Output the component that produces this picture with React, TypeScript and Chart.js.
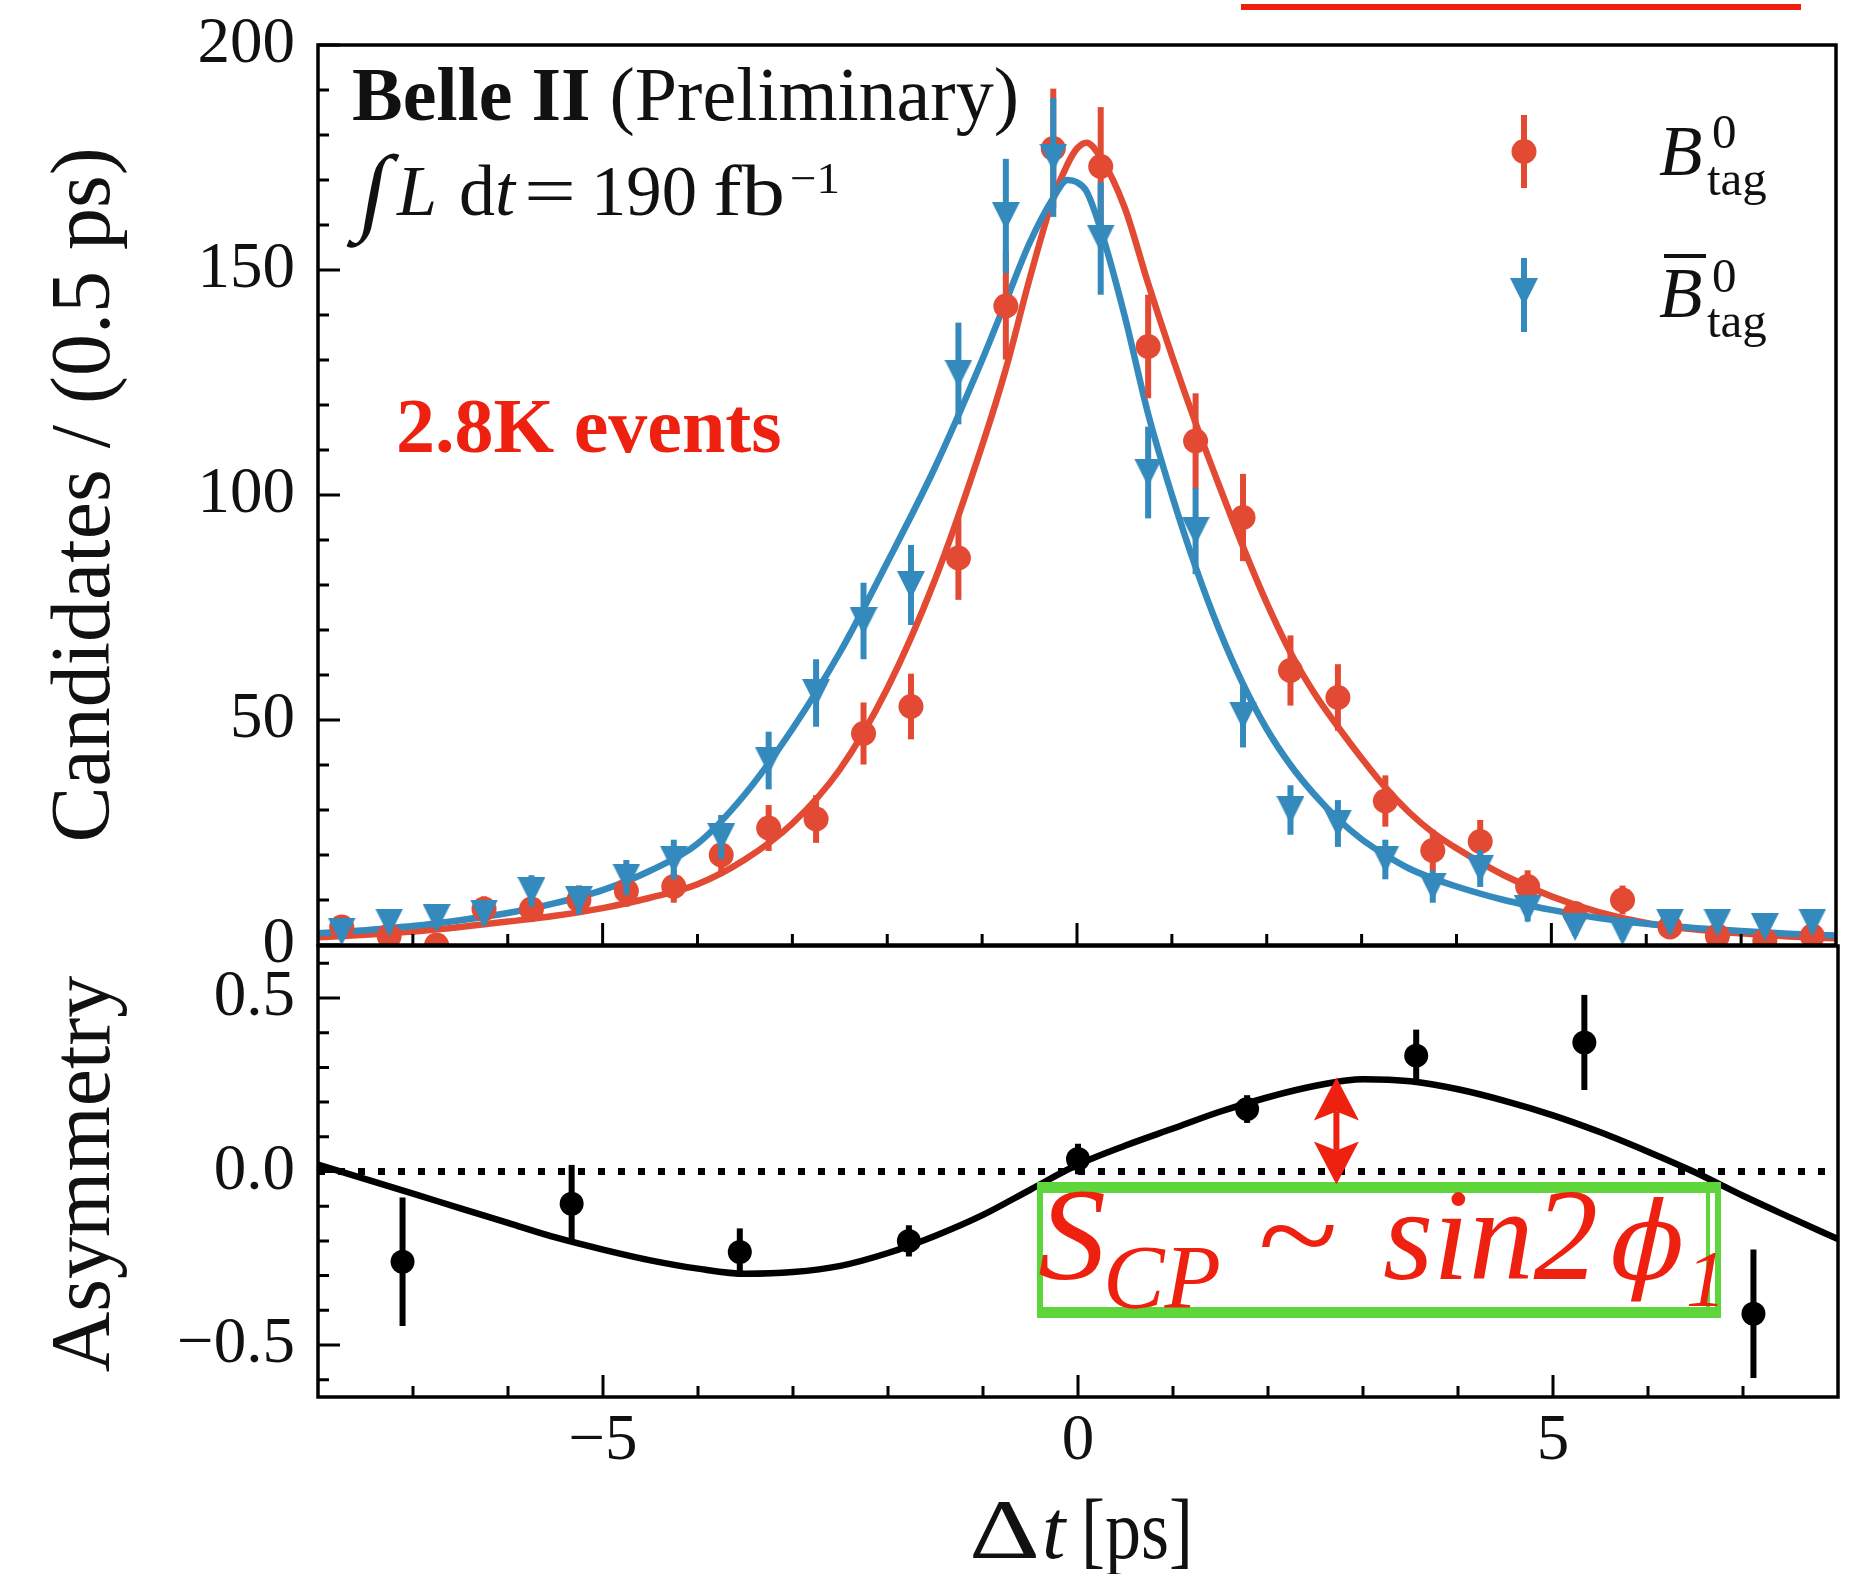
import React, { useEffect, useRef } from 'react';
import { Chart, registerables } from 'chart.js';

Chart.register(...registerables);

const W = 1850;
const H = 1574;
const SERIF = '"Liberation Serif", "Times New Roman", "DejaVu Serif", serif';
const RED = '#E24A33';
const BLUE = '#348ABD';
const NOTE_RED = '#EE2111';
const GREEN = '#5ED53A';
const INK = '#111111';

// ---------- upper panel: Δt bins (0.5 ps) ----------
const binCentres = [-7.75, -7.25, -6.75, -6.25, -5.75, -5.25, -4.75, -4.25, -3.75, -3.25, -2.75, -2.25, -1.75, -1.25, -0.75, -0.25,
  0.25, 0.75, 1.25, 1.75, 2.25, 2.75, 3.25, 3.75, 4.25, 4.75, 5.25, 5.75, 6.25, 6.75, 7.25, 7.75];
const countsB0 = [4, 2, 0, 8, 8, 10, 12, 13, 20, 26, 28, 47, 53, 86, 142, 177,
  173, 133, 112, 95, 61, 55, 32, 21, 23, 13, 7, 10, 4, 2, 1, 2];
const errB0 = [2, 1.4, 0, 2.8, 2.8, 3.2, 3.5, 3.6, 4.5, 5.1, 5.3, 6.9, 7.3, 9.3, 11.9, 13.3,
  13.2, 11.5, 10.6, 9.7, 7.8, 7.4, 5.7, 4.6, 4.8, 3.6, 2.6, 3.2, 2, 1.4, 1, 1.4];
const countsB0bar = [3, 5, 6, 7, 12, 10, 15, 19, 24, 41, 56, 72, 80, 127, 162, 175,
  157, 105, 92, 51, 30, 27, 19, 13, 17, 8, 4, 3, 5, 5, 4, 5];
const errB0bar = [1.7, 2.2, 2.4, 2.6, 3.5, 3.2, 3.9, 4.4, 4.9, 6.4, 7.5, 8.5, 8.9, 11.3, 12.7, 13.2,
  12.5, 10.2, 9.6, 7.1, 5.5, 5.2, 4.4, 3.6, 4.1, 2.8, 2, 1.7, 2.2, 2.2, 2, 2.2];

// ---------- upper panel: fit curves ----------
const fitDt = [-8, -7.5, -7, -6.5, -6, -5.5, -5, -4.5, -4, -3.5, -3, -2.5, -2, -1.5, -1, -0.75, -0.5, -0.25, -0.1, 0, 0.1, 0.25,
  0.5, 0.75, 1, 1.25, 1.5, 1.75, 2, 2.25, 2.5, 2.75, 3, 3.25, 3.5, 3.75, 4, 4.5, 5, 5.5, 6, 6.5, 7, 7.5, 8];
const fitB0 = [1.7, 2.3, 3.0, 4.0, 5.2, 6.5, 8.2, 10.5, 13.5, 19, 27, 39, 57, 81, 111, 128, 148, 166, 173.5, 177, 178.3, 175,
  164, 147, 131, 116, 102, 88.5, 76, 65, 56, 48.5, 41.5, 35, 29.5, 25, 21.5, 15.5, 10.8, 7.3, 4.9, 3.5, 2.6, 1.9, 1.5];
const fitB0bar = [2.6, 3.3, 4.2, 5.5, 7.1, 9.3, 12.2, 16.5, 22.5, 33.5, 48, 65, 85, 106, 130, 143, 156, 166, 170, 169.5, 167.5, 159,
  140, 118, 100, 84, 70, 58, 48, 40, 33.5, 28, 23.5, 20, 17, 14.8, 13, 10, 7.8, 6, 4.7, 3.8, 3.1, 2.5, 2.1];

// ---------- lower panel: asymmetry ----------
const asymDt = [-7.11, -5.33, -3.56, -1.78, 0, 1.78, 3.56, 5.33, 7.11];
const asymVal = [-0.26, -0.093, -0.232, -0.2, 0.036, 0.18, 0.334, 0.372, -0.41];
const asymErr = [0.185, 0.112, 0.068, 0.045, 0.044, 0.04, 0.075, 0.137, 0.185];
const asymFitDt = [-8, -7.5, -7, -6.5, -6, -5.5, -5, -4.5, -4, -3.5, -3, -2.5, -2, -1.5, -1, -0.5, 0, 0.5, 1, 1.5, 2, 2.5,
  3, 3.5, 4, 4.5, 5, 5.5, 6, 6.5, 7, 7.5, 8];
const asymFitVal = [0.02, -0.022, -0.064, -0.106, -0.148, -0.19, -0.225, -0.256, -0.28, -0.295, -0.29, -0.272, -0.235, -0.185,
  -0.125, -0.052, 0.02, 0.075, 0.124, 0.173, 0.214, 0.247, 0.266, 0.26, 0.237, 0.203, 0.162, 0.113, 0.057, -0.003, -0.07,
  -0.133, -0.195];
const zeroLineDt = [-8, 8];
const zeroLineVal = [0, 0];

// ---------- tick marks ----------
const dtMajor = [-5, 0, 5];
const dtMinor = [-7, -6, -4, -3, -2, -1, 1, 2, 3, 4, 6, 7];
const countMajor = [0, 50, 100, 150, 200];
const countMinor = [10, 20, 30, 40, 60, 70, 80, 90, 110, 120, 130, 140, 160, 170, 180, 190];
const asymMajor = [-0.5, 0, 0.5];
const asymMinor = [-0.6, -0.4, -0.3, -0.2, -0.1, 0.1, 0.2, 0.3, 0.4, 0.6];

// annotation arrow (data coordinates)
const arrowDt = 2.72;
const arrowFrom = -0.0375;
const arrowTo = 0.271;

const pts = (xs: number[], ys: number[]) => xs.map((x, i) => ({ x, y: ys[i] }));

const minusFmt = (v: number, digits: number) => {
  if (Math.abs(v) < 1e-9) v = 0;
  const s = Math.abs(v).toFixed(digits);
  return v < 0 ? '\u2212' + s : s;
};

function makeTriangle(size: number, color: string) {
  const c = document.createElement('canvas');
  c.width = size;
  c.height = size;
  const g = c.getContext('2d')!;
  g.fillStyle = color;
  g.beginPath();
  g.moveTo(0, 0);
  g.lineTo(size, 0);
  g.lineTo(size / 2, size);
  g.closePath();
  g.fill();
  return c;
}

const errorBarPlugin = {
  id: 'errorBars',
  beforeDatasetDraw(chart: any, args: any) {
    const ds = chart.data.datasets[args.index];
    if (!ds.errorBars) return;
    const { ctx, chartArea: a } = chart;
    const xs = chart.scales.x;
    const ys = chart.scales.y;
    ctx.save();
    ctx.beginPath();
    ctx.rect(a.left, a.top, a.right - a.left, a.bottom - a.top);
    ctx.clip();
    ctx.strokeStyle = ds.errorBarColor;
    ctx.lineWidth = 6;
    ctx.lineCap = 'butt';
    ds.data.forEach((p: any, i: number) => {
      const e = ds.errorBars[i];
      if (!e) return;
      const px = xs.getPixelForValue(p.x);
      ctx.beginPath();
      ctx.moveTo(px, ys.getPixelForValue(p.y - e));
      ctx.lineTo(px, ys.getPixelForValue(p.y + e));
      ctx.stroke();
    });
    ctx.restore();
  },
};

function drawFrame(chart: any, yMajor: number[], yMinor: number[]) {
  const { ctx, chartArea: a } = chart;
  const xs = chart.scales.x;
  const ys = chart.scales.y;
  ctx.save();
  ctx.strokeStyle = '#000';
  ctx.lineCap = 'butt';
  ctx.lineWidth = 3;
  ctx.beginPath();
  yMajor.forEach((v) => { const p = ys.getPixelForValue(v); ctx.moveTo(a.left, p); ctx.lineTo(a.left + 22, p); });
  yMinor.forEach((v) => { const p = ys.getPixelForValue(v); ctx.moveTo(a.left, p); ctx.lineTo(a.left + 11, p); });
  dtMajor.forEach((v) => { const p = xs.getPixelForValue(v); ctx.moveTo(p, a.bottom); ctx.lineTo(p, a.bottom - 22); });
  dtMinor.forEach((v) => { const p = xs.getPixelForValue(v); ctx.moveTo(p, a.bottom); ctx.lineTo(p, a.bottom - 11); });
  ctx.stroke();
  ctx.lineWidth = 3.5;
  ctx.strokeRect(a.left, a.top, a.right - a.left, a.bottom - a.top);
  ctx.restore();
}

function text(ctx: CanvasRenderingContext2D, s: string, x: number, y: number, font: string, color = INK) {
  ctx.font = font;
  ctx.fillStyle = color;
  ctx.fillText(s, x, y);
  return ctx.measureText(s).width;
}

// draws text squeezed / stretched horizontally to a given advance width
function fitText(ctx: CanvasRenderingContext2D, s: string, x: number, y: number, font: string, width: number, color = INK) {
  ctx.font = font;
  const w = ctx.measureText(s).width;
  ctx.save();
  ctx.translate(x, y);
  ctx.scale(width / w, 1);
  ctx.fillStyle = color;
  ctx.fillText(s, 0, 0);
  ctx.restore();
}

function makeUpperDecor(tri: HTMLCanvasElement) {
  return {
    id: 'upperDecor',
    afterDraw(chart: any) {
      drawFrame(chart, countMajor, countMinor);
      const ctx: CanvasRenderingContext2D = chart.ctx;
      ctx.save();
      ctx.textAlign = 'left';
      ctx.textBaseline = 'alphabetic';

      // red rule at the very top
      ctx.fillStyle = NOTE_RED;
      ctx.fillRect(1241, 4, 560, 6);

      // experiment label
      const w = text(ctx, 'Belle II', 352, 120, `bold 76px ${SERIF}`);
      text(ctx, ' (Preliminary)', 352 + w, 120, `76px ${SERIF}`);

      // luminosity
      ctx.save();
      ctx.translate(356, 222);
      ctx.transform(1, 0, -0.18, 1, 0, 0);
      text(ctx, '\u222B', 0, 0, `96px ${SERIF}`);
      ctx.restore();
      text(ctx, 'L', 397, 215, `italic 72px ${SERIF}`);
      text(ctx, 'd', 459, 215, `72px ${SERIF}`);
      text(ctx, 't', 495, 215, `italic 72px ${SERIF}`);
      fitText(ctx, '=', 524, 215, `72px ${SERIF}`, 52);
      fitText(ctx, '190', 591, 215, `72px ${SERIF}`, 106);
      fitText(ctx, 'fb', 713, 215, `72px ${SERIF}`, 72);
      fitText(ctx, '\u22121', 790, 193, `44px ${SERIF}`, 50);

      // events
      text(ctx, '2.8K events', 396, 452, `bold 78px ${SERIF}`, NOTE_RED);

      // legend
      ctx.strokeStyle = RED;
      ctx.lineWidth = 6;
      ctx.beginPath(); ctx.moveTo(1524, 115); ctx.lineTo(1524, 188); ctx.stroke();
      ctx.fillStyle = RED;
      ctx.beginPath(); ctx.arc(1524, 151.5, 12.5, 0, Math.PI * 2); ctx.fill();
      ctx.strokeStyle = BLUE;
      ctx.beginPath(); ctx.moveTo(1524, 258); ctx.lineTo(1524, 332); ctx.stroke();
      ctx.drawImage(tri, 1524 - tri.width / 2, 292 - tri.height / 2);

      text(ctx, 'B', 1659, 175, `italic 71px ${SERIF}`);
      text(ctx, '0', 1712, 148, `49px ${SERIF}`);
      text(ctx, 'tag', 1707, 195, `49px ${SERIF}`);
      text(ctx, 'B', 1659, 317, `italic 71px ${SERIF}`);
      ctx.fillStyle = INK;
      ctx.fillRect(1664, 254, 42, 4);
      text(ctx, '0', 1712, 292, `49px ${SERIF}`);
      text(ctx, 'tag', 1707, 337, `49px ${SERIF}`);

      // y title
      ctx.save();
      ctx.translate(109, 495);
      ctx.rotate(-Math.PI / 2);
      ctx.textAlign = 'center';
      text(ctx, 'Candidates / (0.5 ps)', 0, 0, `84px ${SERIF}`);
      ctx.restore();

      ctx.restore();
    },
  };
}

const lowerDecor = {
  id: 'lowerDecor',
  afterDraw(chart: any) {
    drawFrame(chart, asymMajor, asymMinor);
    const ctx: CanvasRenderingContext2D = chart.ctx;
    const xs = chart.scales.x;
    const ys = chart.scales.y;
    ctx.save();
    ctx.textAlign = 'left';
    ctx.textBaseline = 'alphabetic';

    // green box
    ctx.fillStyle = GREEN;
    ctx.fillRect(1037, 1182, 684, 11);
    ctx.fillRect(1037, 1307, 684, 11);
    ctx.fillRect(1037, 1182, 6, 136);
    ctx.fillRect(1706, 1182, 4, 136);
    ctx.fillRect(1715, 1182, 6, 136);

    // double arrow
    const ax = xs.getPixelForValue(arrowDt);
    const yTop = ys.getPixelForValue(arrowTo);
    const yBot = ys.getPixelForValue(arrowFrom);
    const hl = 43, hw = 22.5, notch = 9;
    ctx.strokeStyle = NOTE_RED;
    ctx.fillStyle = NOTE_RED;
    ctx.lineWidth = 6;
    ctx.beginPath(); ctx.moveTo(ax, yTop + hl - notch); ctx.lineTo(ax, yBot - hl + notch); ctx.stroke();
    ctx.beginPath();
    ctx.moveTo(ax, yTop); ctx.lineTo(ax + hw, yTop + hl); ctx.lineTo(ax, yTop + hl - notch); ctx.lineTo(ax - hw, yTop + hl);
    ctx.closePath(); ctx.fill();
    ctx.beginPath();
    ctx.moveTo(ax, yBot); ctx.lineTo(ax + hw, yBot - hl); ctx.lineTo(ax, yBot - hl + notch); ctx.lineTo(ax - hw, yBot - hl);
    ctx.closePath(); ctx.fill();

    // S_CP ~ sin2phi_1
    fitText(ctx, 'S', 1038, 1279, `italic 132px ${SERIF}`, 68, NOTE_RED);
    fitText(ctx, 'CP', 1103, 1308, `italic 90px ${SERIF}`, 118, NOTE_RED);
    fitText(ctx, '~', 1258, 1279, `132px ${SERIF}`, 80, NOTE_RED);
    fitText(ctx, 'sin2', 1383, 1279, `italic 132px ${SERIF}`, 215, NOTE_RED);
    ctx.save();
    ctx.translate(1604, 1279);
    ctx.transform(1, 0, -0.22, 1, 0, 0);
    text(ctx, '\u03D5', 0, 0, `108px "DejaVu Serif", ${SERIF}`, NOTE_RED);
    ctx.restore();
    text(ctx, '1', 1686, 1306, `italic 80px ${SERIF}`, NOTE_RED);

    // y title
    ctx.save();
    ctx.translate(109, 1174);
    ctx.rotate(-Math.PI / 2);
    ctx.textAlign = 'center';
    text(ctx, 'Asymmetry', 0, 0, `84px ${SERIF}`);
    ctx.restore();

    // x title
    fitText(ctx, '\u0394', 969, 1558, `84px ${SERIF}`, 71);
    text(ctx, 't', 1042, 1558, `italic 84px ${SERIF}`);
    fitText(ctx, '[ps]', 1081, 1558, `84px ${SERIF}`, 112);

    ctx.restore();
  },
};

const tickFont = { family: SERIF, size: 65 };

export default function App() {
  const upRef = useRef<HTMLCanvasElement>(null);
  const loRef = useRef<HTMLCanvasElement>(null);

  useEffect(() => {
    const tri = makeTriangle(28, BLUE);

    const upper = new Chart(upRef.current!, {
      type: 'scatter',
      data: {
        datasets: [
          {
            label: 'B0bar_tag',
            data: pts(binCentres, countsB0bar),
            errorBars: errB0bar,
            errorBarColor: BLUE,
            pointStyle: tri,
            pointRadius: 14,
            pointHoverRadius: 14,
            backgroundColor: BLUE,
            borderWidth: 0,
            order: 0,
            clip: 0,
          } as any,
          {
            label: 'B0_tag',
            data: pts(binCentres, countsB0),
            errorBars: errB0,
            errorBarColor: RED,
            pointStyle: 'circle',
            pointRadius: 12.5,
            pointHoverRadius: 12.5,
            backgroundColor: RED,
            borderColor: RED,
            borderWidth: 0,
            order: 1,
            clip: 0,
          } as any,
          {
            label: 'fit B0bar',
            data: pts(fitDt, fitB0bar),
            showLine: true,
            borderColor: BLUE,
            borderWidth: 6.5,
            pointRadius: 0,
            cubicInterpolationMode: 'monotone',
            fill: false,
            order: 2,
            clip: 0,
          } as any,
          {
            label: 'fit B0',
            data: pts(fitDt, fitB0),
            showLine: true,
            borderColor: RED,
            borderWidth: 6.5,
            pointRadius: 0,
            cubicInterpolationMode: 'monotone',
            fill: false,
            order: 3,
            clip: 0,
          } as any,
        ],
      },
      options: {
        responsive: false,
        maintainAspectRatio: false,
        animation: false,
        events: [],
        layout: { padding: { left: 0, right: W - 1843, top: 45, bottom: H - 945 } },
        plugins: { legend: { display: false }, tooltip: { enabled: false } },
        scales: {
          x: { type: 'linear', min: -8, max: 8, display: false },
          y: {
            type: 'linear',
            min: 0,
            max: 200,
            ticks: { stepSize: 50, font: tickFont, color: INK, padding: 23 },
            grid: { display: false, drawTicks: false },
            border: { display: false },
            afterFit: (s: any) => { s.width = 318; s.paddingTop = 0; s.paddingBottom = 0; },
          },
        },
      } as any,
      plugins: [errorBarPlugin, makeUpperDecor(tri)],
    });

    const lower = new Chart(loRef.current!, {
      type: 'scatter',
      data: {
        datasets: [
          {
            label: 'asymmetry',
            data: pts(asymDt, asymVal),
            errorBars: asymErr,
            errorBarColor: '#000',
            pointStyle: 'circle',
            pointRadius: 12,
            pointHoverRadius: 12,
            backgroundColor: '#000',
            borderWidth: 0,
            order: 0,
            clip: 0,
          } as any,
          {
            label: 'fit',
            data: pts(asymFitDt, asymFitVal),
            showLine: true,
            borderColor: '#000',
            borderWidth: 6.5,
            pointRadius: 0,
            cubicInterpolationMode: 'monotone',
            fill: false,
            order: 1,
            clip: 0,
          } as any,
          {
            label: 'zero',
            data: pts(zeroLineDt, zeroLineVal),
            showLine: true,
            borderColor: '#000',
            borderWidth: 7,
            borderDash: [7, 13],
            borderCapStyle: 'butt',
            pointRadius: 0,
            fill: false,
            order: 2,
            clip: 0,
          } as any,
        ],
      },
      options: {
        responsive: false,
        maintainAspectRatio: false,
        animation: false,
        events: [],
        layout: { padding: { left: 0, right: W - 1843, top: 946, bottom: 0 } },
        plugins: { legend: { display: false }, tooltip: { enabled: false } },
        scales: {
          x: {
            type: 'linear',
            min: -8,
            max: 8,
            ticks: {
              stepSize: 5,
              includeBounds: false,
              font: tickFont,
              color: INK,
              padding: 6,
              maxRotation: 0,
              callback: (v: any) => minusFmt(Number(v), 0),
            },
            grid: { display: false, drawTicks: false },
            border: { display: false },
            afterFit: (s: any) => { s.height = H - 1397; s.paddingLeft = 0; s.paddingRight = 0; },
          },
          y: {
            type: 'linear',
            min: -0.65,
            max: 0.65,
            ticks: {
              stepSize: 0.5,
              includeBounds: false,
              font: tickFont,
              color: INK,
              padding: 23,
              callback: (v: any) => minusFmt(Number(v), 1),
            },
            grid: { display: false, drawTicks: false },
            border: { display: false },
            afterFit: (s: any) => { s.width = 318; s.paddingTop = 0; s.paddingBottom = 0; },
          },
        },
      } as any,
      plugins: [errorBarPlugin, lowerDecor],
    });

    return () => {
      upper.destroy();
      lower.destroy();
    };
  }, []);

  const cs: React.CSSProperties = { position: 'absolute', left: 0, top: 0, width: W, height: H };
  return (
    <div style={{ position: 'absolute', left: 0, top: 0, width: W, height: H, background: '#fff', overflow: 'hidden' }}>
      <canvas ref={loRef} width={W} height={H} style={cs} />
      <canvas ref={upRef} width={W} height={H} style={cs} />
    </div>
  );
}
